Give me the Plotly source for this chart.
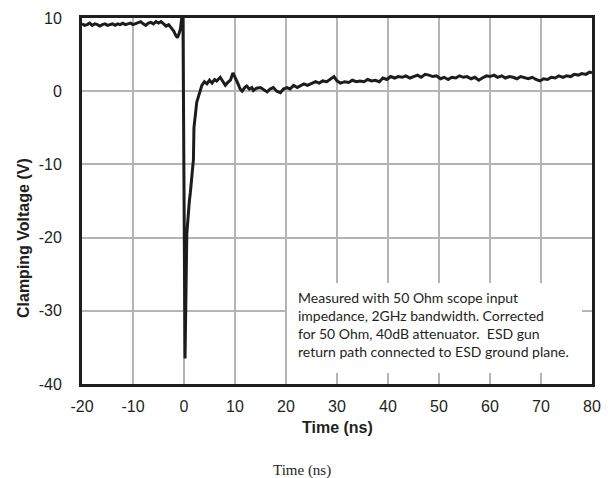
import plotly.graph_objects as go

# Time (ns) and clamping voltage (V)
time_ns = [
    -20, -19.5, -19, -18.5, -18, -17.5, -17, -16.5, -16, -15.5, -15, -14.5, -14, -13.5,
    -13, -12.5, -12, -11.5, -11, -10.5, -10, -9.5, -9, -8.5, -8, -7.5, -7, -6.5, -6,
    -5.5, -5, -4.5, -4, -3.5, -3, -2.5, -2, -1.6, -1.3, -1.0, -0.7, -0.45, -0.2,
    0.2, 0.55, 1.05, 1.25, 1.85, 1.95, 2.5, 3.0, 3.5, 4.0, 4.5, 5.0, 5.5, 6.0, 6.4,
    7.1, 7.6, 8.1, 8.6, 9.1, 9.6, 10.1, 10.6, 11.0, 11.4, 11.9, 12.3, 12.8, 13.3, 13.6,
    14.2, 15.0, 15.6, 16.3, 16.9, 17.5, 18.2, 18.9, 19.5, 20.2, 20.8, 21.5, 22.2, 22.8,
    23.5, 24.2, 25.0, 25.8, 26.5, 27.2, 28.0, 28.7, 29.4, 30.0, 30.7, 31.5, 32.3, 33.0,
    33.8, 34.5, 35.3, 36.0, 36.8, 37.5, 38.3, 39.0, 39.8, 40.5, 41.3, 42.0, 42.8, 43.5,
    44.3, 45.0, 45.8, 46.5, 47.3, 48.0, 48.8, 49.5, 50.3, 51.0, 51.8, 52.5, 53.3, 54.0,
    54.8, 55.5, 56.3, 57.0, 57.8, 58.5, 59.3, 60.0, 60.8, 61.5, 62.3, 63.0, 63.8, 64.5,
    65.3, 66.0, 66.8, 67.5, 68.3, 69.0, 69.8, 70.5, 71.3, 72.0, 72.8, 73.5, 74.3, 75.0,
    75.8, 76.5, 77.3, 78.0, 78.8, 79.5, 80.0,
]
voltage_v = [
    9.2, 9.0, 9.1, 9.3, 9.0, 9.2, 9.1, 8.9, 9.1, 9.2, 9.0, 9.1, 9.2, 9.0,
    9.2, 9.1, 9.3, 9.1, 9.2, 9.3, 9.1, 9.2, 9.4, 9.5, 9.2, 9.0, 9.3, 9.4, 9.2,
    9.5, 9.3, 9.5, 9.2, 8.9, 9.1, 8.6, 8.2, 7.6, 7.3, 7.8, 8.5, 10.0, 10.0,
    -36.5, -19.5, -15.0, -13.8, -9.3, -5.0, -1.5, -0.3, 0.8, 1.3, 1.0, 1.5, 1.1, 1.6, 1.4,
    1.9, 1.3, 0.8, 1.2, 1.5, 2.5, 1.8, 1.0, 0.3, 0.0, 0.5, 0.7, 0.3, 0.5, 0.1,
    0.4, 0.5, 0.2, -0.1, 0.3, 0.5, 0.0, -0.2, 0.3, 0.5, 0.3, 0.8, 0.5, 0.7,
    1.0, 0.8, 1.0, 1.3, 1.1, 1.4, 1.3, 1.6, 2.0, 1.4, 1.1, 1.3, 1.2, 1.5,
    1.3, 1.4, 1.3, 1.6, 1.4, 1.5, 1.3, 1.8, 1.6, 2.0, 1.8, 2.0, 1.9, 2.1,
    1.8, 2.0, 2.2, 1.9, 2.3, 2.2, 2.0, 2.1, 1.7, 1.9, 1.6, 1.9, 1.8, 2.1,
    1.9, 2.0, 1.7, 1.9, 1.5, 1.8, 2.1, 2.0, 2.2, 1.9, 2.1, 1.8, 2.0, 1.9,
    1.7, 2.0, 1.8, 1.7, 1.9, 1.6, 1.4, 1.7, 1.6, 1.9, 1.8, 2.1, 1.9, 2.1,
    2.0, 2.3, 2.2, 2.4, 2.3, 2.6, 2.5,
]

x_ticks = [-20, -10, 0, 10, 20, 30, 40, 50, 60, 70, 80]
y_ticks = [-40, -30, -20, -10, 0, 10]

note_lines = [
    "Measured with 50 Ohm scope input",
    "impedance, 2GHz bandwidth. Corrected",
    "for 50 Ohm, 40dB attenuator.  ESD gun",
    "return path connected to ESD ground plane.",
]

TXT = "#231f20"
GRID = "#b4b4b4"
AX = "#1e1e1e"

fig = go.Figure()
fig.add_trace(go.Scatter(
    x=time_ns, y=voltage_v, mode="lines",
    line=dict(color="#1c1c1c", width=3),
    showlegend=False, hoverinfo="skip",
))

axis_common = dict(
    showgrid=True, gridcolor=GRID, gridwidth=2,
    showline=True, linecolor=AX, linewidth=3, mirror=True,
    zeroline=False, ticks="", automargin=False,
    tickfont=dict(family="Liberation Sans, Arial", size=16, color=TXT),
)
fig.update_xaxes(range=[-20, 80], tickvals=x_ticks, ticktext=[str(v) for v in x_ticks],
                 ticklabelstandoff=6, **axis_common)
fig.update_yaxes(range=[-40, 10], tickvals=y_ticks, ticktext=[str(v) for v in y_ticks],
                 ticklabelstandoff=14, **axis_common)

# white note box
fig.add_shape(type="rect", xref="paper", yref="paper",
              x0=(287 - 82) / 510, x1=(582 - 82) / 510,
              y0=(384 - 373) / 366, y1=(384 - 283) / 366,
              fillcolor="white", line=dict(width=0), layer="above")

annotations = []
for i, line in enumerate(note_lines):
    ypx = 297 + i * 18.3
    annotations.append(dict(
        text=line, xref="paper", yref="paper",
        x=(296 - 82) / 510, y=(384 - ypx) / 366,
        xanchor="left", yanchor="middle", showarrow=False,
        font=dict(family="Lato", size=14, color=TXT),
    ))

annotations.append(dict(
    text="<b>Time (ns)</b>", xref="paper", yref="paper",
    x=0.5, y=(384 - 428) / 366, xanchor="center", yanchor="middle", showarrow=False,
    font=dict(family="Liberation Sans, Arial", size=16, color=TXT),
))
annotations.append(dict(
    text="<b>Clamping Voltage (V)</b>", xref="paper", yref="paper",
    x=(23 - 82) / 510, y=(384 - 238) / 366, xanchor="center", yanchor="middle",
    textangle=-90, showarrow=False,
    font=dict(family="Liberation Sans, Arial", size=16, color=TXT),
))
annotations.append(dict(
    text="Time (ns)", xref="paper", yref="paper",
    x=(302 - 82) / 510, y=(384 - 470) / 366, xanchor="center", yanchor="middle",
    showarrow=False,
    font=dict(family="Liberation Serif, Times New Roman", size=15, color=TXT),
))

# the page body has an 8px margin, so the figure is 8px smaller on each axis
fig.update_layout(
    width=603, height=470,
    margin=dict(l=74, r=19, t=10, b=94, autoexpand=False),
    paper_bgcolor="white", plot_bgcolor="white",
    annotations=annotations,
)

fig.write_html("out.html")
